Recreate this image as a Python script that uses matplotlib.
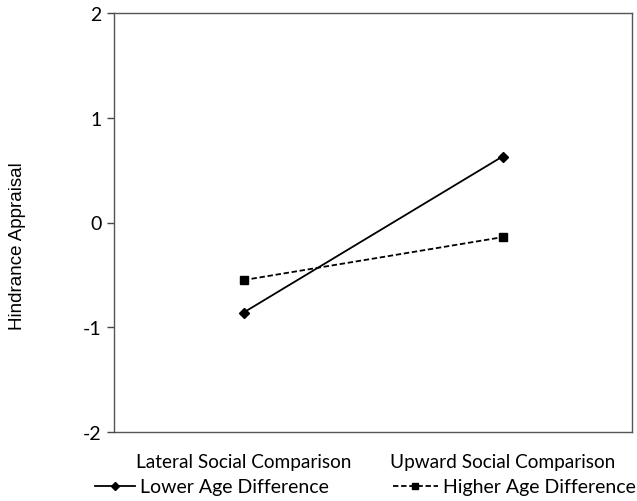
import matplotlib.pyplot as plt

plt.rcParams['font.family'] = ['Lato', 'DejaVu Sans']

categories = ["Lateral Social Comparison", "Upward Social Comparison"]
lower_age = [-0.86, 0.63]
higher_age = [-0.55, -0.14]
y_ticks = [-2, -1, 0, 1, 2]

W, H = 637, 502
fig = plt.figure(figsize=(W / 100, H / 100), dpi=100)
ax = fig.add_axes([114 / W, 69 / H, 518 / W, 419 / H])

x = range(len(categories))
line_lo, = ax.plot(x, lower_age, color="black", linestyle="-", linewidth=1.3,
                   marker="D", markersize=5, label="Lower Age Difference")
line_hi, = ax.plot(x, higher_age, color="black", linestyle=(0, (3, 1.5)), linewidth=1.3,
                   marker="s", markersize=6, label="Higher Age Difference")

ax.set_xlim(-0.5, 1.5)
ax.set_ylim(-2, 2)
ax.set_yticks(y_ticks)
ax.set_yticklabels([str(t) for t in y_ticks], fontsize=14)
ax.set_xticks(list(x))
ax.set_xticklabels(categories, fontsize=13.7)
ax.tick_params(axis="x", length=0, pad=15)
ax.tick_params(axis="y", length=5, width=1, direction="out", pad=4, color="#444444")
for s in ax.spines.values():
    s.set_color("#555555")
    s.set_linewidth(1)

# y label in an Arial-like face, placed where the original has it
fig.text(18 / W, 1 - 246 / H, "Hindrance Appraisal", rotation=90, fontsize=13.5,
         family="Liberation Sans", ha="center", va="center")

# two legend entries placed separately, like the original
fig.legend(handles=[line_lo], loc="center left", bbox_to_anchor=(95 / W, 1 - 488 / H),
           frameon=False, fontsize=14, borderpad=0, borderaxespad=0,
           handlelength=2.05, handletextpad=0.25, markerscale=0.8)
fig.legend(handles=[line_hi], loc="center left", bbox_to_anchor=(393 / W, 1 - 488 / H),
           frameon=False, fontsize=14, borderpad=0, borderaxespad=0,
           handlelength=2.3, handletextpad=0.25, markerscale=0.8)

fig.savefig("out.png", dpi=100)
